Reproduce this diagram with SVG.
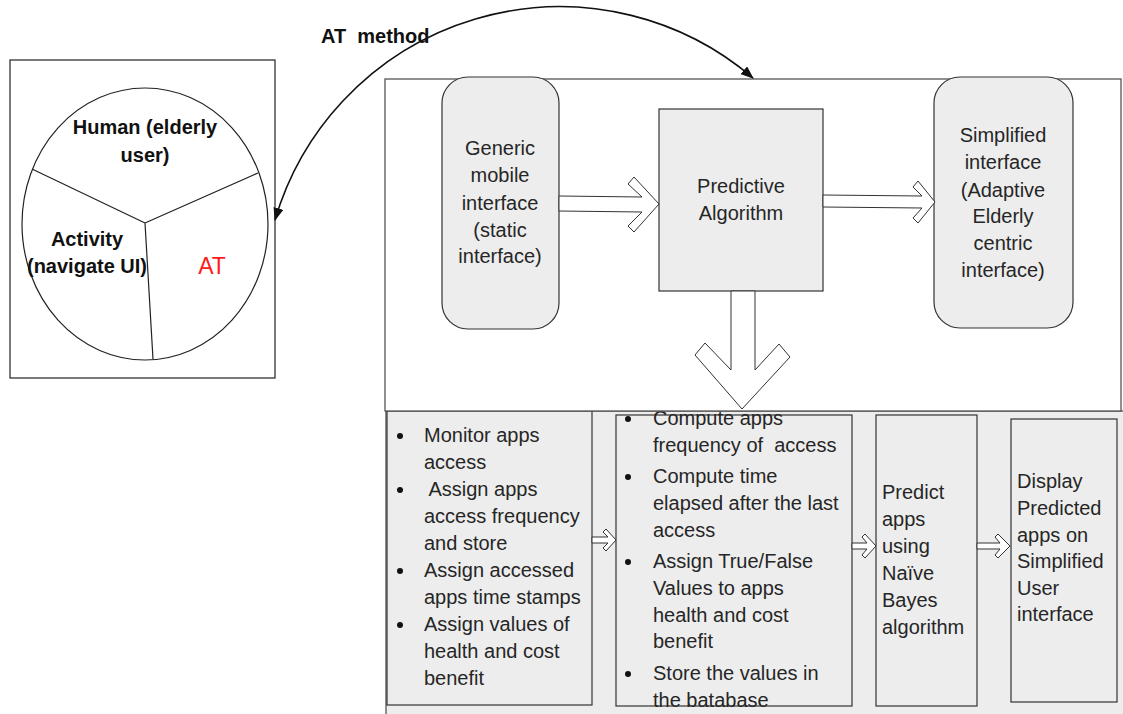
<svg xmlns="http://www.w3.org/2000/svg" width="1123" height="714" viewBox="0 0 1123 714">
  <style>
    .t { font-family: "Liberation Sans", Arial, sans-serif; font-size: 20px; fill: #262626; white-space: pre; }
    .c { text-anchor: middle; }
    .b { font-weight: bold; fill: #111; }
    .box { fill: #ededed; stroke: #333; stroke-width: 1.2; }
    .hollow { fill: #fff; stroke: #333; stroke-width: 1; stroke-linejoin: miter; }
    .pie { fill: none; stroke: #222; stroke-width: 1.2; }
  </style>
  <defs>
    <marker id="head" markerUnits="userSpaceOnUse" markerWidth="14" markerHeight="10" refX="12" refY="5" orient="auto-start-reverse">
      <path d="M0,0 L13,5 L0,10 z" fill="#111"/>
    </marker>
  </defs>

  <rect width="1123" height="714" fill="#fff"/>

  <!-- Activity-theory triangle: human / activity / AT -->
  <g id="at-model">
    <rect x="10" y="60" width="265" height="318" fill="#fff" stroke="#222" stroke-width="1.2"/>
    <ellipse cx="145" cy="224" rx="123" ry="136" class="pie"/>
    <path d="M145 223 L32 169 M145 223 L258 173 M145 223 L153 359" class="pie"/>
    <text class="t b c" x="145" y="134">Human (elderly</text>
    <text class="t b c" x="145" y="162">user)</text>
    <text class="t b c" x="87" y="246">Activity</text>
    <text class="t b c" x="87" y="273">(navigate UI)</text>
    <text class="t c" x="212" y="274" style="fill:#ff1a1a;font-size:23px">AT</text>
  </g>

  <!-- Lower process strip -->
  <g id="process-strip">
    <rect x="386" y="411" width="740" height="310" fill="#ededed" stroke="#555" stroke-width="1.3"/>
  </g>

  <g id="monitor">
    <rect x="387" y="411" width="205" height="294" class="box"/>
    <g fill="#111">
      <circle cx="400" cy="436" r="3"/>
      <circle cx="400" cy="490" r="3"/>
      <circle cx="400" cy="571" r="3"/>
      <circle cx="400" cy="625" r="3"/>
    </g>
    <text class="t" x="424" y="442">Monitor apps</text>
    <text class="t" x="424" y="469">access</text>
    <text class="t" x="424" y="496" xml:space="preserve"> Assign apps</text>
    <text class="t" x="424" y="523">access frequency</text>
    <text class="t" x="424" y="550">and store</text>
    <text class="t" x="424" y="577">Assign accessed</text>
    <text class="t" x="424" y="604">apps time stamps</text>
    <text class="t" x="424" y="631">Assign values of</text>
    <text class="t" x="424" y="658">health and cost</text>
    <text class="t" x="424" y="685">benefit</text>
  </g>

  <g id="compute">
    <rect x="616" y="415" width="236" height="291" class="box"/>
    <g fill="#111">
      <circle cx="628" cy="419" r="3"/>
      <circle cx="628" cy="477" r="3"/>
      <circle cx="628" cy="562" r="3"/>
      <circle cx="628" cy="674" r="3"/>
    </g>
    <text class="t" x="653" y="425">Compute apps</text>
    <text class="t" x="653" y="452" xml:space="preserve">frequency of  access</text>
    <text class="t" x="653" y="483">Compute time</text>
    <text class="t" x="653" y="510">elapsed after the last</text>
    <text class="t" x="653" y="537">access</text>
    <text class="t" x="653" y="568">Assign True/False</text>
    <text class="t" x="653" y="595">Values to apps</text>
    <text class="t" x="653" y="622">health and cost</text>
    <text class="t" x="653" y="648">benefit</text>
    <text class="t" x="653" y="680">Store the values in</text>
    <text class="t" x="653" y="707">the batabase</text>
  </g>

  <g id="predict">
    <rect x="876" y="415" width="101" height="291" class="box"/>
    <text class="t" x="882" y="499">Predict</text>
    <text class="t" x="882" y="526">apps</text>
    <text class="t" x="882" y="553">using</text>
    <text class="t" x="882" y="580">Naïve</text>
    <text class="t" x="882" y="607">Bayes</text>
    <text class="t" x="882" y="634">algorithm</text>
  </g>

  <g id="display">
    <rect x="1011" y="419" width="106" height="283" class="box"/>
    <text class="t" x="1017" y="488">Display</text>
    <text class="t" x="1017" y="515">Predicted</text>
    <text class="t" x="1017" y="542">apps on</text>
    <text class="t" x="1017" y="568">Simplified</text>
    <text class="t" x="1017" y="595">User</text>
    <text class="t" x="1017" y="621">interface</text>
  </g>

  <!-- Upper adaptive-interface panel -->
  <g id="interface-panel">
    <rect x="385" y="79" width="736" height="332" fill="#fff" stroke="#555" stroke-width="1.3"/>
  </g>

  <g id="generic">
    <rect x="442" y="77" width="117" height="252" rx="26" class="box"/>
    <text class="t c" x="500" y="155">Generic</text>
    <text class="t c" x="500" y="182">mobile</text>
    <text class="t c" x="500" y="210">interface</text>
    <text class="t c" x="500" y="237">(static</text>
    <text class="t c" x="500" y="263">interface)</text>
  </g>

  <g id="predictive">
    <rect x="659" y="109" width="164" height="182" class="box"/>
    <text class="t c" x="741" y="193">Predictive</text>
    <text class="t c" x="741" y="220">Algorithm</text>
  </g>

  <g id="simplified">
    <rect x="934" y="77" width="139" height="251" rx="26" class="box"/>
    <text class="t c" x="1003" y="142">Simplified</text>
    <text class="t c" x="1003" y="169">interface</text>
    <text class="t c" x="1003" y="197">(Adaptive</text>
    <text class="t c" x="1003" y="223">Elderly</text>
    <text class="t c" x="1003" y="250">centric</text>
    <text class="t c" x="1003" y="277">interface)</text>
  </g>

  <g id="connectors">
    <!-- wide hollow arrows -->
    <polygon class="hollow" points="559,196 642,197 628,184 634,177 659,204 634,232 628,226 642,212 559,211"/>
    <polygon class="hollow" points="823,195 922,196 913,187 918,181 935,202 918,223 913,218 922,208 823,207"/>
    <polygon class="hollow" points="731,291 731,370 705,343 695,355 742,409 790,357 779,344 755,370 755,291"/>
    <!-- small hollow arrows in the process strip -->
    <polygon class="hollow" points="592,537 608,537 603,532 606,529 616,540 606,551 603,548 608,543 592,543"/>
    <polygon class="hollow" points="852,543 867,543 862,537 865,534 876,546 865,558 862,555 867,549 852,549"/>
    <polygon class="hollow" points="977,543 1000,543 995,537 998,534 1010,546 998,558 995,555 1000,549 977,549"/>
    <!-- AT method curve -->
    <path d="M275 220 A297 297 0 0 1 753 78" fill="none" stroke="#111" stroke-width="1.6" marker-start="url(#head)" marker-end="url(#head)"/>
    <text class="t b" x="321" y="43" xml:space="preserve">AT  method</text>
  </g>
</svg>
